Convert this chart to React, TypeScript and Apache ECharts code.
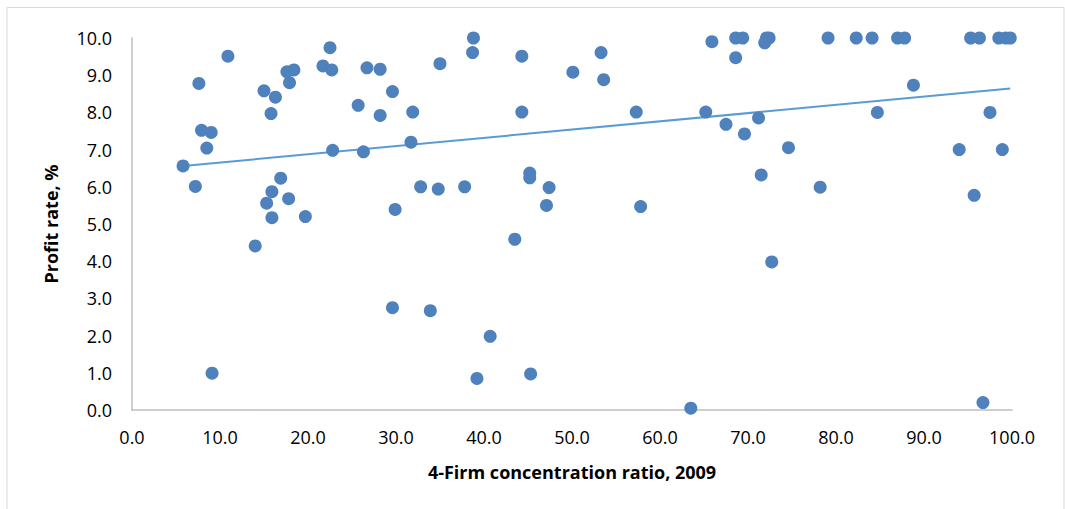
import React, { useEffect, useRef } from "react";
import * as echarts from "echarts";

const concentration: number[] = [
  5.8, 7.2, 7.6, 7.9, 9.0, 8.5, 9.1, 10.9, 14.0, 15.0,
  16.3, 15.8, 17.6, 18.4, 17.9, 21.7, 22.5, 22.7, 26.7, 28.2,
  29.6, 25.7, 28.2, 31.9, 35.0, 22.8, 26.3, 31.7, 16.9, 15.9,
  17.8, 15.3, 15.9, 19.7, 29.9, 32.8, 34.8, 29.6, 33.9, 38.8,
  38.7, 44.3, 50.1, 53.3, 53.6, 65.9, 68.6, 69.4, 68.6, 44.3,
  57.3, 65.2, 67.5, 69.6, 37.8, 45.2, 45.2, 47.4, 47.1, 57.8,
  43.5, 40.7, 39.2, 45.3, 63.5, 72.1, 72.4, 71.9, 79.1, 82.3,
  84.1, 87.0, 87.8, 95.3, 96.3, 98.5, 99.3, 99.8, 88.8, 84.7,
  97.5, 71.2, 74.6, 94.0, 98.9, 71.5, 78.2, 95.7, 72.7, 96.7,
];

const profitRate: number[] = [
  6.56, 6.01, 8.78, 7.52, 7.46, 7.04, 0.99, 9.51, 4.41, 8.58,
  8.41, 7.97, 9.09, 9.14, 8.80, 9.25, 9.74, 9.14, 9.20, 9.16,
  8.56, 8.19, 7.92, 8.01, 9.31, 6.98, 6.94, 7.20, 6.23, 5.87,
  5.68, 5.56, 5.17, 5.20, 5.39, 6.00, 5.94, 2.75, 2.67, 10.0,
  9.61, 9.51, 9.08, 9.61, 8.88, 9.90, 10.0, 10.0, 9.47, 8.01,
  8.01, 8.01, 7.68, 7.42, 6.00, 6.37, 6.24, 5.98, 5.50, 5.47,
  4.59, 1.98, 0.85, 0.97, 0.05, 10.0, 10.0, 9.87, 10.0, 10.0,
  10.0, 10.0, 10.0, 10.0, 10.0, 10.0, 10.0, 10.0, 8.73, 8.00,
  8.00, 7.85, 7.05, 7.00, 7.00, 6.32, 5.99, 5.77, 3.98, 0.20,
];

// Linear trendline endpoints
const trendX: number[] = [5.8, 99.8];
const trendY: number[] = [6.56, 8.64];

const xAxisTitle = "4-Firm concentration ratio, 2009";
const yAxisTitle = "Profit rate, %";

export default function App() {
  const ref = useRef<HTMLDivElement>(null);

  useEffect(() => {
    if (!ref.current) return;
    const chart = echarts.init(ref.current, undefined, { renderer: "svg" });
    const points = concentration.map((x, i) => [x, profitRate[i]]);
    const trend = trendX.map((x, i) => [x, trendY[i]]);
    const font = "'Open Sans', 'Noto Sans', sans-serif";

    chart.setOption({
      animation: false,
      backgroundColor: "#ffffff",
      graphic: [
        {
          type: "rect",
          shape: { x: 7, y: 7.5, width: 1057, height: 520 },
          style: { fill: "none", stroke: "#d9d9d9", lineWidth: 1 },
          silent: true,
        },
      ],
      grid: { left: 132, right: 53, top: 38, bottom: 99, containLabel: false },
      xAxis: {
        type: "value",
        min: 0,
        max: 100,
        interval: 10,
        name: xAxisTitle,
        nameLocation: "middle",
        nameGap: 53,
        nameTextStyle: { fontFamily: font, fontSize: 18, fontWeight: "bold", color: "#000" },
        axisLine: { show: true, lineStyle: { color: "#bfbfbf", width: 1.5 } },
        axisTick: { show: false },
        splitLine: { show: false },
        axisLabel: {
          margin: 18,
          fontFamily: font,
          fontSize: 18,
          color: "#000",
          formatter: (v: number) => v.toFixed(1),
        },
      },
      yAxis: {
        type: "value",
        min: 0,
        max: 10,
        interval: 1,
        name: yAxisTitle,
        nameLocation: "middle",
        nameGap: 72,
        nameRotate: 90,
        nameTextStyle: { fontFamily: font, fontSize: 18, fontWeight: "bold", color: "#000" },
        axisLine: { show: true, lineStyle: { color: "#bfbfbf", width: 1.5 } },
        axisTick: { show: false },
        splitLine: { show: false },
        axisLabel: {
          margin: 20,
          fontFamily: font,
          fontSize: 18,
          color: "#000",
          formatter: (v: number) => v.toFixed(1),
        },
      },
      series: [
        {
          type: "scatter",
          data: points,
          symbol: "circle",
          symbolSize: 13,
          itemStyle: { color: "#4f81bd", opacity: 1 },
          z: 3,
        },
        {
          type: "line",
          data: trend,
          symbol: "none",
          lineStyle: { color: "#5b9bd5", width: 2 },
          z: 2,
        },
      ],
    });

    return () => chart.dispose();
  }, []);

  return (
    <div
      ref={ref}
      style={{ position: "fixed", left: 0, top: 0, width: 1065, height: 509 }}
    />
  );
}
